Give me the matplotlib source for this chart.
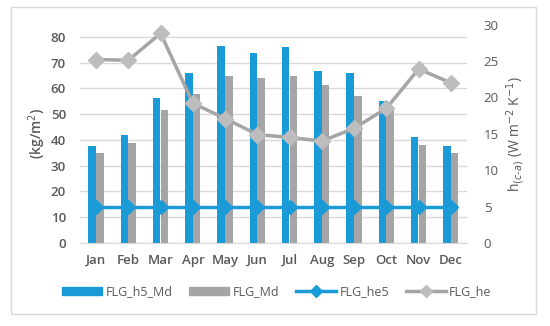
import numpy as np
import matplotlib
matplotlib.use("Agg")
import matplotlib.pyplot as plt
from matplotlib.patches import Rectangle
from matplotlib.lines import Line2D
from matplotlib.patches import Patch

months = ['Jan', 'Feb', 'Mar', 'Apr', 'May', 'Jun', 'Jul', 'Aug', 'Sep', 'Oct', 'Nov', 'Dec']
flg_h5_md = [37.8, 42.1, 56.4, 66.0, 76.5, 73.7, 76.1, 66.9, 66.0, 55.1, 41.2, 37.5]
flg_md = [34.8, 38.8, 51.5, 57.7, 64.7, 64.0, 64.7, 61.5, 57.0, 51.5, 38.1, 34.8]
flg_he5 = [5, 5, 5, 5, 5, 5, 5, 5, 5, 5, 5, 5]
flg_he = [25.2, 25.1, 28.8, 19.2, 17.1, 14.9, 14.5, 14.0, 15.75, 18.5, 23.9, 22.0]

blue = '#1B9AD8'
gray = '#A5A5A5'
lgray = '#BDBDBD'
txt = '#595959'

plt.rcParams['font.family'] = ['Open Sans', 'DejaVu Sans']

fig = plt.figure(figsize=(5.5, 3.26), dpi=100)
W, H = 550, 326
ax = fig.add_axes([80 / W, 1 - 243 / H, (467 - 80) / W, (243 - 24.6) / H])
ax2 = ax.twinx()

x = np.arange(len(months))
bw = 0.235
ax.bar(x - bw / 2 - 0.005, flg_h5_md, bw, color=blue, zorder=2)
ax.bar(x + bw / 2, flg_md, bw, color=gray, zorder=2)

ax.set_xlim(-0.5, 11.5)
ax.set_ylim(0, 84.8)
ax.set_yticks(range(0, 81, 10))
ax.grid(axis='y', color='#D9D9D9', lw=1, zorder=0)
ax.set_axisbelow(True)
for s in ax.spines.values():
    s.set_visible(False)
ax.spines['bottom'].set_visible(True)
ax.spines['bottom'].set_color('#D9D9D9')
ax.tick_params(length=0, colors=txt)
ax.set_xticks(x)
ax.set_xticklabels(months, fontsize=9.5, fontweight='semibold', color=txt)
for t in ax.get_yticklabels():
    t.set_fontsize(9.5)
    t.set_fontweight('semibold')
ax.tick_params(axis='y', pad=10)
ax.tick_params(axis='x', pad=8)
ax.set_ylabel('(kg/m$^2$)', fontsize=10, fontweight='semibold', color=txt, labelpad=2)

ax2.plot(x, flg_he5, color=blue, lw=2.5, marker='D', ms=7, mfc=blue, mec=blue, zorder=3)
ax2.plot(x, flg_he, color=gray, lw=2.5, marker='D', ms=8, mfc=lgray, mec=lgray, zorder=3)
ax2.set_ylim(0, 30)
ax2.set_yticks(range(0, 31, 5))
for s in ax2.spines.values():
    s.set_visible(False)
ax2.tick_params(length=0, colors=txt, labelsize=9.5, pad=12)
ax2.set_ylabel('h$_{(c\\text{-}a)}$ (W m$^{-2}$ K$^{-1}$)', fontsize=10, color=txt, labelpad=4)

handles = [
    Patch(color=blue, label='FLG_h5_Md'),
    Patch(color=gray, label='FLG_Md'),
    Line2D([], [], color=blue, lw=2.5, marker='D', ms=6, label='FLG_he5'),
    Line2D([], [], color=gray, lw=2.5, marker='D', ms=6, mfc=lgray, mec=lgray, label='FLG_he'),
]
leg = fig.legend(handles=handles, loc='center', bbox_to_anchor=(277 / W, 1 - 292 / H), ncol=4,
                 frameon=False, fontsize=9, handlelength=3.2, handleheight=0.6,
                 columnspacing=1.3, handletextpad=0.3)
for t in leg.get_texts():
    t.set_color(txt)

fig.patches.append(Rectangle((11 / W, 1 - 314 / H), (536 - 11) / W, (314 - 7) / H,
                             transform=fig.transFigure, fill=False, ec='#D9D9D9', lw=1))

fig.savefig('out.png', dpi=100)
